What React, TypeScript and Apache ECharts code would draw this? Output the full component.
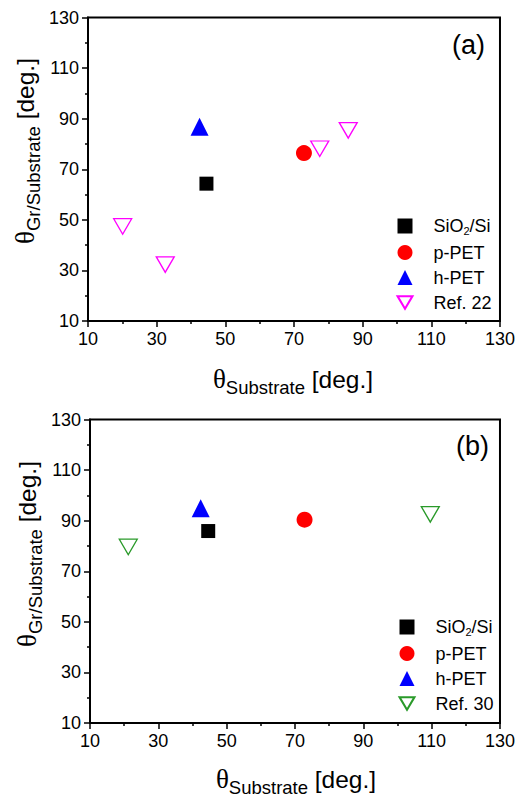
import React, { useEffect, useRef } from "react";
import * as echarts from "echarts";

// ---- data ----
const majorTicks = [10, 30, 50, 70, 90, 110, 130];
const minorTicks = [20, 40, 60, 80, 100, 120];

const topSiO2 = [[44.5, 64.3]];
const topPPET = [[72.9, 76.4]];
const topHPET = [[42.5, 86.8]];
const ref22 = [
  [20.1, 47.4],
  [32.5, 32.3],
  [77.5, 78.1],
  [85.8, 85.4],
];

const botSiO2 = [[44.6, 85.9]];
const botPPET = [[72.8, 90.4]];
const botHPET = [[42.4, 94.9]];
const ref30 = [
  [21.2, 79.6],
  [109.6, 92.5],
];

const namesTop = ["SiO2/Si", "p-PET", "h-PET", "Ref. 22"];
const namesBot = ["SiO2/Si ", "p-PET ", "h-PET ", "Ref. 30"];

const FONT = "Liberation Sans, Arial, sans-serif";
const DOWN_TRI = "path://M0,0L20,0L10,17Z";

export default function App() {
  const ref = useRef<HTMLDivElement>(null);

  useEffect(() => {
    if (!ref.current) return;
    const chart = echarts.init(ref.current, null, { renderer: "svg" });

    const grids = [
      { left: 88, top: 17.5, width: 412, height: 303.5 },
      { left: 90, top: 419.5, width: 413, height: 303.5 },
    ];

    const xAxes: any[] = [];
    const yAxes: any[] = [];
    grids.forEach((_, gi) => {
      xAxes.push({
        type: "value",
        gridIndex: gi,
        position: "bottom",
        min: 10,
        max: 130,
        splitLine: { show: false },
        axisLine: { show: true, lineStyle: { color: "#000", width: 2 } },
        axisTick: { show: true, customValues: majorTicks, length: 6, lineStyle: { color: "#000", width: 1.5 } },
        axisLabel: { customValues: majorTicks, margin: 9, fontSize: 18, color: "#000", fontFamily: FONT },
      });
      yAxes.push({
        type: "value",
        gridIndex: gi,
        position: "left",
        min: 10,
        max: 130,
        splitLine: { show: false },
        axisLine: { show: true, lineStyle: { color: "#000", width: 2 } },
        axisTick: { show: true, customValues: majorTicks, length: 6, lineStyle: { color: "#000", width: 1.5 } },
        axisLabel: { customValues: majorTicks, margin: 9, fontSize: 18, color: "#000", fontFamily: FONT },
      });
      xAxes.push({
        type: "value",
        gridIndex: gi,
        position: "bottom",
        min: 10,
        max: 130,
        splitLine: { show: false },
        axisLine: { show: false },
        axisTick: { show: true, customValues: minorTicks, length: 3, lineStyle: { color: "#000", width: 1.5 } },
        axisLabel: { show: false },
      });
      yAxes.push({
        type: "value",
        gridIndex: gi,
        position: "left",
        min: 10,
        max: 130,
        splitLine: { show: false },
        axisLine: { show: false },
        axisTick: { show: true, customValues: minorTicks, length: 3, lineStyle: { color: "#000", width: 1.5 } },
        axisLabel: { show: false },
      });
    });

    const mk = (name: string, data: number[][], gi: number, sym: any, size: any, style: any) => ({
      type: "scatter",
      name,
      xAxisIndex: gi * 2,
      yAxisIndex: gi * 2,
      data,
      symbol: sym,
      symbolSize: size,
      itemStyle: style,
      z: 3,
    });

    const solid = (c: string) => ({ color: c, borderWidth: 0, opacity: 1 });
    const hollow = (c: string) => ({ color: "rgba(255,255,255,0)", borderColor: c, borderWidth: 1.3, opacity: 1 });

    const series = [
      mk(namesTop[0], topSiO2, 0, "rect", 14, solid("#000")),
      mk(namesTop[1], topPPET, 0, "circle", 16, solid("#ff0000")),
      mk(namesTop[2], topHPET, 0, "triangle", 18, solid("#0000ff")),
      mk(namesTop[3], ref22, 0, DOWN_TRI, [18, 15.5], hollow("#ff00ff")),
      mk(namesBot[0], botSiO2, 1, "rect", 14, solid("#000")),
      mk(namesBot[1], botPPET, 1, "circle", 16, solid("#ff0000")),
      mk(namesBot[2], botHPET, 1, "triangle", 18, solid("#0000ff")),
      mk(namesBot[3], ref30, 1, DOWN_TRI, [18, 15.5], hollow("#2a9a2a")),
    ];

    const legendText = {
      fontSize: 18,
      color: "#000",
      fontFamily: FONT,
      padding: [0, 0, 0, 16],
      rich: {
        sub: { fontSize: 11, fontFamily: FONT, color: "#000", padding: [10, 0, 0, 0] },
      },
    };
    const fmt = (n: string) => (n.trim() === "SiO2/Si" ? "SiO{sub|2}/Si" : n.trim());

    const mkLegend = (names: string[], left: number, top: number) => ({
      data: names,
      orient: "vertical",
      left,
      top,
      itemWidth: 15,
      itemHeight: 15,
      itemGap: 7,
      selectedMode: false,
      formatter: fmt,
      textStyle: legendText,
      padding: 0,
    });

    const titleRich = {
      th: { fontSize: 27, fontFamily: "Liberation Serif, serif", color: "#000" },
      sub: { fontSize: 18.5, fontFamily: FONT, color: "#000", padding: [16, 0, 0, 0] },
      d: { fontSize: 24.5, fontFamily: FONT, color: "#000" },
    };

    const mkTitle = (text: string, x: number, y: number, rot: number) => ({
      type: "text",
      x,
      y,
      rotation: rot,
      style: {
        text,
        rich: titleRich,
        align: "center",
        verticalAlign: "middle",
        fill: "#000",
        font: "24px " + FONT,
      },
    });

    chart.setOption({
      animation: false,
      backgroundColor: "#fff",
      grid: grids.map((g) => ({
        ...g,
        show: true,
        borderColor: "#000",
        borderWidth: 2,
        backgroundColor: "rgba(0,0,0,0)",
        containLabel: false,
      })),
      xAxis: xAxes,
      yAxis: yAxes,
      legend: [mkLegend(namesTop, 396.5, 217), mkLegend(namesBot, 398.5, 618)],
      series,
      graphic: [
        mkTitle("{th|θ}{sub|Substrate}{d| [deg.]}", 293, 379, 0),
        mkTitle("{th|θ}{sub|Substrate}{d| [deg.]}", 296, 779, 0),
        mkTitle("{th|θ}{sub|Gr/Substrate}{d| [deg.]}", 25, 151, Math.PI / 2),
        mkTitle("{th|θ}{sub|Gr/Substrate}{d| [deg.]}", 27, 554, Math.PI / 2),
        {
          type: "text",
          x: 468.5,
          y: 45,
          style: { text: "(a)", font: "27px " + FONT, fill: "#000", align: "center", verticalAlign: "middle" },
        },
        {
          type: "text",
          x: 472.5,
          y: 446,
          style: { text: "(b)", font: "27px " + FONT, fill: "#000", align: "center", verticalAlign: "middle" },
        },
      ],
    });

    return () => chart.dispose();
  }, []);

  return (
    <div
      ref={ref}
      style={{ position: "fixed", left: 0, top: 0, width: 518, height: 797, background: "#fff" }}
    />
  );
}
